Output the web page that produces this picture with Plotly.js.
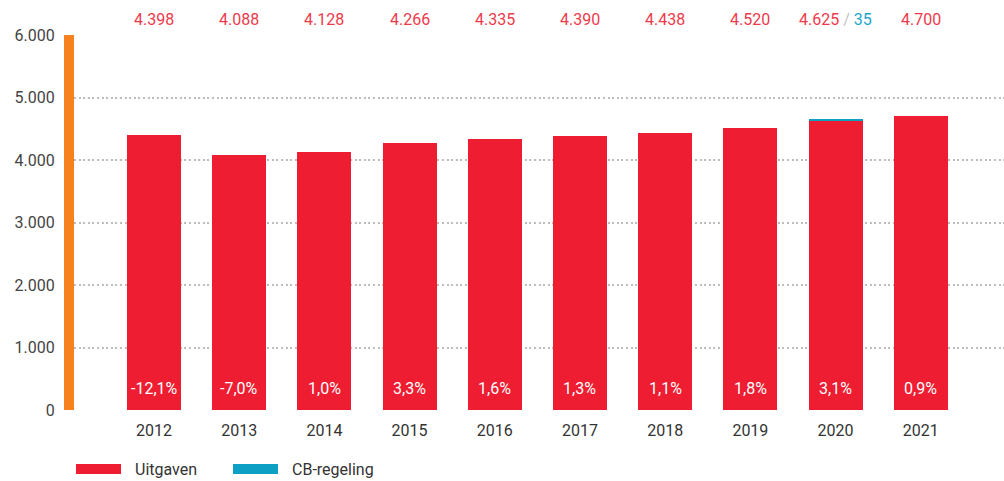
<!DOCTYPE html>
<html>
<head>
<meta charset="utf-8">
<script src="https://cdn.plot.ly/plotly-3.0.1.min.js"></script>
<style>html,body{margin:0;padding:0;background:#fff;}#chart{width:1004px;height:481px;}</style>
</head>
<body>
<div id="chart"></div>
<script>
const years = ['2012','2013','2014','2015','2016','2017','2018','2019','2020','2021'];
const uitgaven = [4398, 4088, 4128, 4266, 4335, 4390, 4438, 4520, 4625, 4700];
const cbRegeling = [0, 0, 0, 0, 0, 0, 0, 0, 35, 0];
const groei = ['-12,1%', '-7,0%', '1,0%', '3,3%', '1,6%', '1,3%', '1,1%', '1,8%', '3,1%', '0,9%'];
const yTicks = [0, 1000, 2000, 3000, 4000, 5000, 6000];
const yTickText = ['0', '1.000', '2.000', '3.000', '4.000', '5.000', '6.000'];

const RED = '#ee1d31';
const TEAL = '#0ea0c4';
const FONT = 'Roboto, "DejaVu Sans Condensed", sans-serif';

function fmt(v) {
  return String(v).replace(/\B(?=(\d{3})+(?!\d))/g, '.');
}

const traces = [
  {type: 'bar', x: years, y: uitgaven, name: 'Uitgaven', marker: {color: RED}, width: 0.634, hoverinfo: 'skip'},
  {type: 'bar', x: years, y: cbRegeling, name: 'CB-regeling', marker: {color: TEAL}, width: 0.634, hoverinfo: 'skip'}
];

const M = {l: 74, r: 0, t: 35, b: 71};
const PW = 1004 - M.l - M.r, PH = 481 - M.t - M.b;
function px(x) { return (x - M.l) / PW; }
function py(y) { return (481 - M.b - y) / PH; }

const annotations = [];
years.forEach((yr, i) => {
  let txt = '<span style="color:#ef3a4b">' + fmt(uitgaven[i]) + '</span>';
  if (cbRegeling[i] > 0) {
    txt += '<span style="color:#c4c4c4"> / </span><span style="color:#1ca6cc">' + fmt(cbRegeling[i]) + '</span>';
  }
  annotations.push({x: i, y: py(20), xref: 'x', yref: 'paper', text: txt, showarrow: false,
    font: {family: FONT, size: 16}, xanchor: 'center', yanchor: 'middle'});
  annotations.push({x: i, y: 352, xref: 'x', yref: 'y', text: groei[i], showarrow: false,
    font: {family: FONT, size: 16, color: '#ffffff'}, xanchor: 'center', yanchor: 'middle'});
});

// legend
annotations.push({x: px(133), y: py(469), xref: 'paper', yref: 'paper', text: 'Uitgaven', showarrow: false,
  font: {family: FONT, size: 16, color: '#333'}, xanchor: 'left', yanchor: 'middle'});
annotations.push({x: px(290), y: py(469), xref: 'paper', yref: 'paper', text: 'CB-regeling', showarrow: false,
  font: {family: FONT, size: 16, color: '#333'}, xanchor: 'left', yanchor: 'middle'});

const shapes = [
  {type: 'rect', xref: 'paper', yref: 'paper', x0: px(76), x1: px(121), y0: py(474), y1: py(464), fillcolor: RED, line: {width: 0}},
  {type: 'rect', xref: 'paper', yref: 'paper', x0: px(233), x1: px(278), y0: py(474), y1: py(464), fillcolor: TEAL, line: {width: 0}}
];

const layout = {
  width: 1004, height: 481,
  margin: M,
  paper_bgcolor: '#fff', plot_bgcolor: '#fff',
  barmode: 'stack',
  showlegend: false,
  xaxis: {
    type: 'category', range: [-0.939, 9.977], showgrid: false, zeroline: false, showline: false,
    ticks: '', tickfont: {family: FONT, size: 16, color: '#333'}, ticklabelstandoff: 9
  },
  yaxis: {
    range: [0, 6000], tickvals: yTicks, ticktext: yTickText,
    showgrid: true, gridcolor: '#bdbdbd', gridwidth: 2, griddash: '2px,2.6px',
    zeroline: false, showline: true, linecolor: '#f5821f', linewidth: 10,
    ticks: '', tickfont: {family: FONT, size: 16, color: '#444'}, ticklabelstandoff: 6
  },
  annotations: annotations,
  shapes: shapes
};

Plotly.newPlot('chart', traces, layout, {staticPlot: true, displayModeBar: false});
</script>
</body>
</html>
